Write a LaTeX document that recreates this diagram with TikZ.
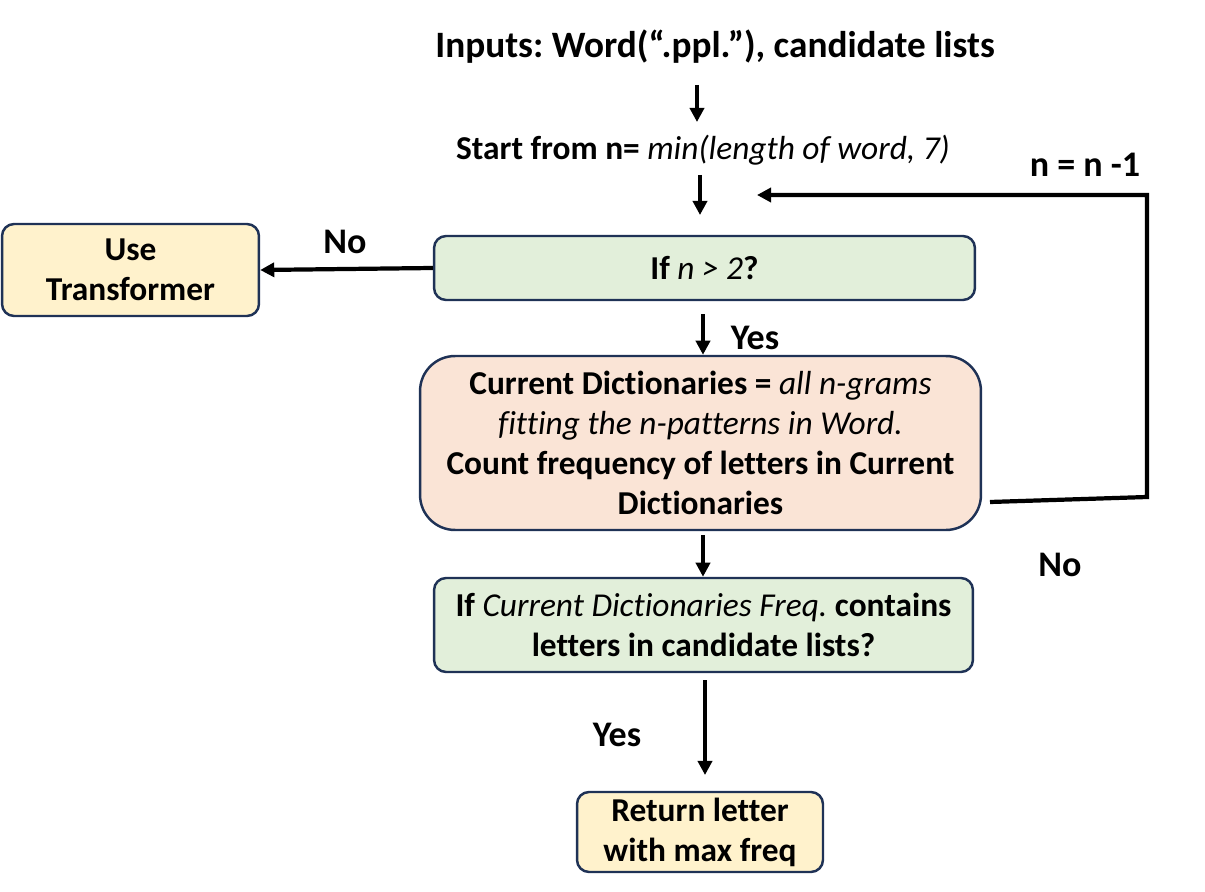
\documentclass[tikz,border=0pt]{standalone}
\usepackage{fontspec}
\setmainfont{Carlito}[Ligatures=NoCommon]
\usetikzlibrary{arrows.meta}
\frenchspacing
\newcommand{\ital}[1]{{\mdseries\itshape #1}}
\tikzset{
  flowbox/.style={draw=navy,line width=1.4pt,rounded corners=0.24cm,align=center,
    font=\fontsize{19}{22.8}\selectfont\bfseries,inner sep=0pt},
  flowarrow/.style={->,line width=2.4pt},
  flowlabel/.style={font=\fontsize{20.5}{24}\selectfont\bfseries}
}
\definecolor{navy}{RGB}{31,50,86}
\definecolor{testgreen}{RGB}{226,239,218}
\definecolor{endyellow}{RGB}{255,242,204}
\definecolor{dictorange}{RGB}{250,228,214}
\begin{document}
\begin{tikzpicture}[x=0.02cm,y=-0.02cm,>={Triangle[length=8pt,width=8pt]}]
\useasboundingbox (0,0) rectangle (1205,892);
% inputs and start value
\node (inputs) at (715,47) {\fontsize{21.2}{25}\selectfont\bfseries Inputs: Word(“.ppl.”), candidate lists};
\node (start) at (703,150) {\fontsize{19}{22}\selectfont\bfseries Start from n= \ital{min(length of word, 7)}};
\coordinate (a1) at (697,85);
\coordinate (a2) at (697,122);
\coordinate (b1) at (700,175);
\coordinate (b2) at (700,215);
\draw[flowarrow] (a1) -- (a2);
\draw[flowarrow] (b1) -- (b2);
% boxes
\node[flowbox,fill=testgreen,minimum width=10.82cm,minimum height=1.28cm] (ntest) at (704.5,268) {If \ital{n > 2}?};
\node[flowbox,fill=endyellow,minimum width=5.14cm,minimum height=1.84cm] (transf) at (130.5,270) {Use\\Transformer};
\node[flowbox,fill=dictorange,rounded corners=0.7cm,minimum width=11.22cm,minimum height=3.48cm] (dict) at (700.5,443)
  {Current Dictionaries = \ital{all n-grams}\\ \ital{fitting the n-patterns in Word.}\\Count frequency of letters in Current\\Dictionaries};
\node[flowbox,fill=testgreen,minimum width=10.78cm,minimum height=1.88cm] (ftest) at (703.5,625)
  {If \ital{Current Dictionaries Freq.} contains\\letters in candidate lists?};
\node[flowbox,fill=endyellow,minimum width=4.92cm,minimum height=1.6cm] (ret) at (700,832) {Return letter\\with max freq};
% connectors
\draw[flowarrow] (ntest.west) -- (transf.east);
\node[flowlabel] (no1) at (345,242) {No};
\coordinate (d1) at (703,314);
\draw[flowarrow] (d1) -- (d1 |- dict.north);
\node[flowlabel] (yes1) at (755,338) {Yes};
\coordinate (e1) at (703,535);
\draw[flowarrow] (e1) -- (e1 |- ftest.north);
\coordinate (c1) at (705,680);
\coordinate (c2) at (705,775);
\draw[flowarrow] (c1) -- (c2);
\node[flowlabel] (yes2) at (617,735) {Yes};
% loop back with n-1
\coordinate (l0) at (990,502);
\coordinate (l1) at (1147,497);
\coordinate (l2) at (757,195);
\draw[flowarrow] (l0) -- (l1) |- (l2);
\node[flowlabel] (dec) at (1085,165) {n = n -1};
\node[flowlabel] (no2) at (1060,565) {No};
\end{tikzpicture}
\end{document}
